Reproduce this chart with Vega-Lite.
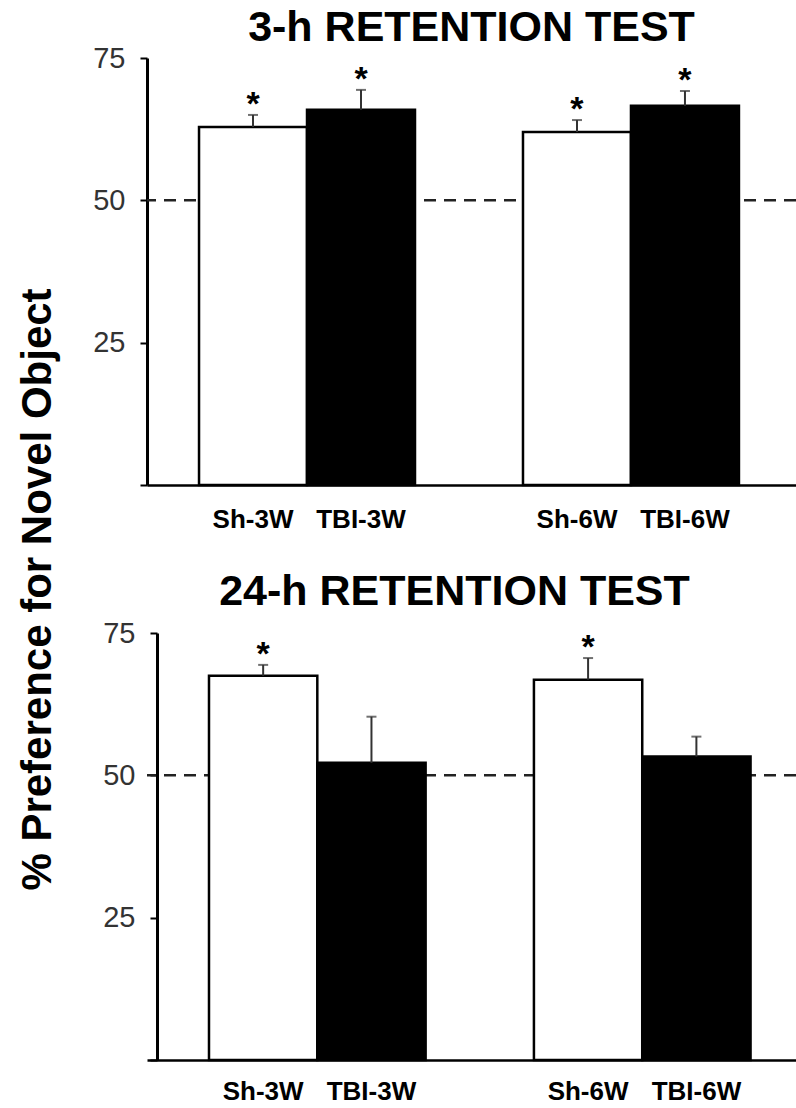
{
  "$schema": "https://vega.github.io/schema/vega-lite/v6.json",
  "padding": {"left": 16, "top": 7, "right": 0, "bottom": 0},
  "background": "white",
  "config": {"view": {"stroke": null}},
  "datasets": {
    "bars": [
      {"panel": "3h", "group": "Sh-3W", "cond": "Sham", "mean": 62.9, "err": 65.0, "star": "*"},
      {"panel": "3h", "group": "TBI-3W", "cond": "TBI", "mean": 65.9, "err": 69.4, "star": "*"},
      {"panel": "3h", "group": "Sh-6W", "cond": "Sham", "mean": 62.0, "err": 64.1, "star": "*"},
      {"panel": "3h", "group": "TBI-6W", "cond": "TBI", "mean": 66.6, "err": 69.2, "star": "*"},
      {"panel": "24h", "group": "Sh-3W", "cond": "Sham", "mean": 67.5, "err": 69.4, "star": "*"},
      {"panel": "24h", "group": "TBI-3W", "cond": "TBI", "mean": 52.2, "err": 60.3, "star": ""},
      {"panel": "24h", "group": "Sh-6W", "cond": "Sham", "mean": 66.8, "err": 70.6, "star": "*"},
      {"panel": "24h", "group": "TBI-6W", "cond": "TBI", "mean": 53.3, "err": 56.8, "star": ""}
    ],
    "chance": [{"level": 50}]
  },
  "bounds": "flush",
  "spacing": 148,
  "vconcat": [
    {
      "width": 649,
      "height": 427,
      "title": {"text": "3-h RETENTION TEST", "font": "Liberation Sans", "fontSize": 43, "fontWeight": "bold", "color": "black", "anchor": "middle", "frame": "group", "baseline": "alphabetic", "offset": -40},
      "layer": [
        {
          "data": {"name": "chance"},
          "mark": {"type": "rule", "strokeDash": [12, 8], "strokeWidth": 2.5, "color": "#222"},
          "encoding": {
            "y": {"field": "level", "type": "quantitative", "title": "% Preference for Novel Object", "scale": {"domain": [0, 75], "nice": false}}
          }
        },
        {
          "data": {"name": "bars"},
          "transform": [{"filter": "datum.panel === '3h'"}],
          "encoding": {
            "x": {"field": "group", "type": "nominal", "sort": null,
              "scale": {"domain": ["Sh-3W", "TBI-3W", "gap", "Sh-6W", "TBI-6W"], "paddingInner": 0, "paddingOuter": 0.505, "align": 0.477},
              "axis": {"title": null, "ticks": false, "domainColor": "black", "domainWidth": 2.5, "labelFont": "Liberation Sans", "labelFontWeight": "bold", "labelFontSize": 26, "labelColor": "black", "labelPadding": 21, "labelAngle": 0, "labelExpr": "datum.value === 'gap' ? '' : datum.label"}}
          },
          "layer": [
            {
              "mark": {"type": "bar", "stroke": "black", "strokeWidth": 2.5},
              "encoding": {
                "y": {"field": "mean", "type": "quantitative", "title": "% Preference for Novel Object",
                  "scale": {"domain": [0, 75], "nice": false},
                  "axis": {"values": [0, 25, 50, 75], "grid": false, "domainColor": "black", "domainWidth": 3, "tickColor": "black", "tickWidth": 2, "tickSize": 7, "labelFont": "Liberation Sans", "labelFontSize": 29, "labelColor": "#333", "labelPadding": 15, "labelExpr": "datum.value === 0 ? '' : datum.label",
                    "titleFont": "Liberation Sans", "titleFontSize": 42, "titleFontWeight": "bold", "titleColor": "black", "titleAngle": -90, "titleBaseline": "middle", "titleAlign": "center", "titleX": -110, "titleY": 531}},
                "fill": {"field": "cond", "type": "nominal", "scale": {"domain": ["Sham", "TBI"], "range": ["white", "black"]}, "legend": null}
              }
            },
            {
              "mark": {"type": "rule", "color": "#333", "strokeWidth": 2},
              "encoding": {
                "y": {"field": "mean", "type": "quantitative", "title": "% Preference for Novel Object"},
                "y2": {"field": "err"}
              }
            },
            {
              "mark": {"type": "tick", "color": "#333", "size": 10, "thickness": 2},
              "encoding": {"y": {"field": "err", "type": "quantitative", "title": "% Preference for Novel Object"}}
            },
            {
              "mark": {"type": "text", "font": "Liberation Sans", "fontSize": 34, "fontWeight": "bold", "baseline": "alphabetic", "color": "black"},
              "encoding": {
                "y": {"field": "err", "type": "quantitative", "title": "% Preference for Novel Object"},
                "text": {"field": "star"}
              }
            }
          ]
        }
      ]
    },
    {
      "width": 649,
      "height": 427,
      "title": {"text": "24-h RETENTION TEST", "font": "Liberation Sans", "fontSize": 43, "fontWeight": "bold", "color": "black", "anchor": "middle", "frame": "group", "baseline": "alphabetic", "offset": -29, "dx": -17},
      "layer": [
        {
          "data": {"name": "chance"},
          "mark": {"type": "rule", "strokeDash": [12, 8], "strokeWidth": 2.5, "color": "#222"},
          "encoding": {
            "y": {"field": "level", "type": "quantitative", "title": null, "scale": {"domain": [0, 75], "nice": false}}
          }
        },
        {
          "data": {"name": "bars"},
          "transform": [{"filter": "datum.panel === '24h'"}],
          "encoding": {
            "x": {"field": "group", "type": "nominal", "sort": null,
              "scale": {"domain": ["Sh-3W", "TBI-3W", "gap", "Sh-6W", "TBI-6W"], "paddingInner": 0, "paddingOuter": 0.496, "align": 0.577},
              "axis": {"title": null, "ticks": false, "domainColor": "black", "domainWidth": 2.5, "labelFont": "Liberation Sans", "labelFontWeight": "bold", "labelFontSize": 26, "labelColor": "black", "labelPadding": 18, "labelAngle": 0, "labelExpr": "datum.value === 'gap' ? '' : datum.label"}}
          },
          "layer": [
            {
              "mark": {"type": "bar", "stroke": "black", "strokeWidth": 2.5},
              "encoding": {
                "y": {"field": "mean", "type": "quantitative", "title": null,
                  "scale": {"domain": [0, 75], "nice": false},
                  "axis": {"offset": -10, "values": [0, 25, 50, 75], "grid": false, "domainColor": "black", "domainWidth": 3, "tickColor": "black", "tickWidth": 2, "tickSize": 7, "labelFont": "Liberation Sans", "labelFontSize": 29, "labelColor": "#333", "labelPadding": 15, "labelExpr": "datum.value === 0 ? '' : datum.label"}},
                "fill": {"field": "cond", "type": "nominal", "scale": {"domain": ["Sham", "TBI"], "range": ["white", "black"]}, "legend": null}
              }
            },
            {
              "mark": {"type": "rule", "color": "#333", "strokeWidth": 2},
              "encoding": {
                "y": {"field": "mean", "type": "quantitative", "title": null},
                "y2": {"field": "err"}
              }
            },
            {
              "mark": {"type": "tick", "color": "#333", "size": 10, "thickness": 2},
              "encoding": {"y": {"field": "err", "type": "quantitative", "title": null}}
            },
            {
              "mark": {"type": "text", "font": "Liberation Sans", "fontSize": 34, "fontWeight": "bold", "baseline": "alphabetic", "color": "black"},
              "encoding": {
                "y": {"field": "err", "type": "quantitative", "title": null},
                "text": {"field": "star"}
              }
            }
          ]
        }
      ]
    }
  ]
}
